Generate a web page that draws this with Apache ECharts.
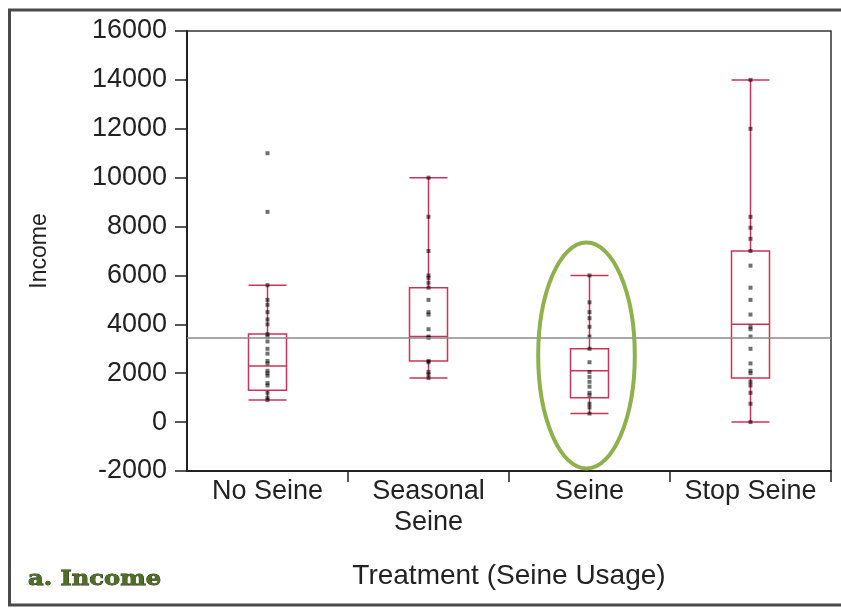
<!DOCTYPE html>
<html>
<head>
<meta charset="utf-8">
<script src="https://cdn.jsdelivr.net/npm/echarts/dist/echarts.min.js"></script>
<style>
  html, body { margin: 0; padding: 0; background: #ffffff; }
  #chart { width: 841px; height: 608px; }
</style>
</head>
<body>
<div id="chart"></div>
<script>
// Income by treatment group (seine usage)
const categories = ['No Seine', 'Seasonal\nSeine', 'Seine', 'Stop Seine'];

// Box summaries per group
const whiskerLow  = [900, 1800, 350, 0];
const quartile1   = [1300, 2500, 1000, 1800];
const medians     = [2300, 3500, 2100, 4000];
const quartile3   = [3600, 5500, 3000, 7000];
const whiskerHigh = [5600, 10000, 6000, 14000];

// Individual household incomes per group
const noSeineIncome = [11000, 8600, 5600, 5000, 4800, 4500, 4200, 4000, 3600, 3500, 3300, 3000,
  2800, 2500, 2400, 2100, 2000, 1900, 1600, 1500, 1200, 1000, 900];
const seasonalIncome = [10000, 8400, 7000, 6000, 5900, 5700, 5500, 5000, 4500, 4400, 3800, 3500,
  3450, 2500, 2450, 2050, 1950, 1800];
const seineIncome = [6000, 4900, 4500, 4250, 3900, 3500, 3000, 2450, 2050, 1850, 1650, 1450,
  1200, 1100, 750, 600, 350];
const stopSeineIncome = [14000, 12000, 8400, 7950, 7500, 7000, 6400, 5500, 5000, 4400, 3900, 3800,
  3500, 3000, 2400, 2100, 2000, 1650, 1500, 1200, 750, 0];

// Overall mean income (reference line)
const overallMean = 3470;

// Highlighted group and the value span of its ring
const highlightGroup = 'Seine';
const ringLow = -1900;
const ringHigh = 7350;

const FONT = '"Liberation Sans", Arial, sans-serif';
const BOX_RED = '#cc3358';

const boxData = categories.map((c, i) =>
  [whiskerLow[i], quartile1[i], medians[i], quartile3[i], whiskerHigh[i]]);

const groups = [noSeineIncome, seasonalIncome, seineIncome, stopSeineIncome];
const pointData = [];
groups.forEach((vals, i) => vals.forEach(v => pointData.push([i, v])));

const chart = echarts.init(document.getElementById('chart'), null, { renderer: 'canvas' });

chart.setOption({
  animation: false,
  backgroundColor: '#ffffff',
  grid: {
    left: 187, right: 10, top: 31, bottom: 137,
    show: true, borderColor: '#333333', borderWidth: 1.5, backgroundColor: 'transparent'
  },
  xAxis: {
    type: 'category',
    data: categories,
    boundaryGap: true,
    name: 'Treatment (Seine Usage)',
    nameLocation: 'middle',
    nameGap: 91,
    nameTextStyle: { fontFamily: FONT, fontSize: 28, color: '#222222' },
    axisLine: { onZero: false, lineStyle: { color: '#222222', width: 2 } },
    axisTick: {
      show: true, alignWithLabel: false, length: 11,
      interval: idx => idx > 0 && idx < categories.length,
      lineStyle: { color: '#222222', width: 1.5 }
    },
    axisLabel: { fontFamily: FONT, fontSize: 27, color: '#222222', margin: 5, lineHeight: 31, interval: 0 },
    splitLine: { show: false }
  },
  yAxis: {
    type: 'value',
    min: -2000,
    max: 16000,
    interval: 2000,
    name: 'Income',
    nameLocation: 'middle',
    nameGap: 136,
    nameRotate: 90,
    nameTextStyle: { fontFamily: FONT, fontSize: 23, color: '#222222' },
    axisLine: { show: true, onZero: false, lineStyle: { color: '#222222', width: 2 } },
    axisTick: { show: true, length: 12, lineStyle: { color: '#222222', width: 1.5 } },
    axisLabel: {
      fontFamily: FONT, fontSize: 27, color: '#222222', margin: 20,
      formatter: v => String(v)
    },
    splitLine: { show: false }
  },
  series: [
    {
      type: 'boxplot',
      data: boxData,
      boxWidth: [38, 38],
      itemStyle: { color: 'transparent', borderColor: BOX_RED, borderWidth: 1.5 },
      z: 3,
      markLine: {
        silent: true,
        symbol: 'none',
        label: { show: false },
        lineStyle: { color: '#8a8a8a', width: 1.5, type: 'solid' },
        data: [{ yAxis: overallMean }]
      }
    },
    {
      type: 'scatter',
      data: pointData,
      symbol: 'rect',
      symbolSize: 4,
      itemStyle: { color: 'rgba(0,0,0,0.7)' },
      z: 4
    }
  ]
});

// Ring around the highlighted group, placed through the axes
const gi = categories.indexOf(highlightGroup);
const ringTop = chart.convertToPixel({ gridIndex: 0 }, [gi, ringHigh]);
const ringBottom = chart.convertToPixel({ gridIndex: 0 }, [gi, ringLow]);
const nextCat = chart.convertToPixel({ gridIndex: 0 }, [gi + 1, ringHigh]);
const catWidth = nextCat[0] - ringTop[0];

chart.setOption({
  graphic: [
    {
      type: 'ellipse',
      shape: {
        cx: ringTop[0] - 3,
        cy: (ringTop[1] + ringBottom[1]) / 2,
        rx: catWidth * 0.3,
        ry: (ringBottom[1] - ringTop[1]) / 2
      },
      style: { fill: 'none', stroke: '#8fb14d', lineWidth: 4 },
      z: 10
    },
    {
      type: 'rect',
      shape: { x: 9.5, y: 10, width: 900, height: 595 },
      style: { fill: 'none', stroke: '#4a4a4a', lineWidth: 3 },
      silent: true,
      z: 10
    },
    {
      type: 'text',
      x: 28,
      y: 580,
      scaleX: 1.15,
      style: {
        text: 'a. Income',
        x: 0, y: 0,
        fill: '#4f6e24',
        stroke: '#1f2a0c',
        lineWidth: 0.8,
        font: 'bold 21px "DejaVu Serif", serif',
        verticalAlign: 'middle'
      },
      z: 10
    }
  ]
});
</script>
</body>
</html>
